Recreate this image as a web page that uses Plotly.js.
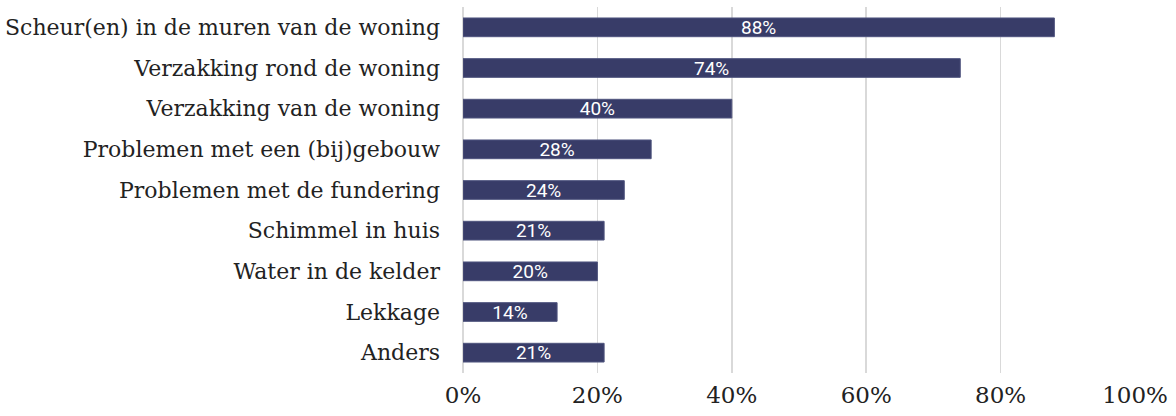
<!DOCTYPE html>
<html><head><meta charset="utf-8">
<script src="https://cdn.plot.ly/plotly-3.0.1.min.js"></script>
<style>html,body{margin:0;padding:0;background:#fff}</style>
</head><body>
<div id="chart" style="width:1176px;height:416px"></div>
<script>
const categories = [
  "Scheur(en) in de muren van de woning",
  "Verzakking rond de woning",
  "Verzakking van de woning",
  "Problemen met een (bij)gebouw",
  "Problemen met de fundering",
  "Schimmel in huis",
  "Water in de kelder",
  "Lekkage",
  "Anders"
];
const values = [0.88, 0.74, 0.40, 0.28, 0.24, 0.21, 0.20, 0.14, 0.21];
const valueLabels = ["88%", "74%", "40%", "28%", "24%", "21%", "20%", "14%", "21%"];
const tickVals = [0, 0.2, 0.4, 0.6, 0.8, 1.0];
const tickText = ["0%", "20%", "40%", "60%", "80%", "100%"];

const trace = {
  type: "bar",
  orientation: "h",
  y: categories,
  x: values,
  text: valueLabels,
  textposition: "inside",
  insidetextanchor: "middle",
  constraintext: "none",
  textangle: 0,
  texttemplate: "%{text}",
  textfont: {family: "Roboto, sans-serif", size: 19, color: "#ffffff"},
  marker: {color: "#383c68", line: {color: "#50557f", width: 1}},
  hoverinfo: "none",
  cliponaxis: false
};

const layout = {
  width: 1176, height: 416,
  margin: {l: 463, r: 41, t: 7, b: 43},
  paper_bgcolor: "#ffffff",
  plot_bgcolor: "#ffffff",
  bargap: 0.54,
  showlegend: false,
  font: {family: "DejaVu Serif, serif", size: 22, color: "#222222"},
  xaxis: {
    range: [0, 1.0],
    tickvals: tickVals,
    ticktext: tickText,
    showgrid: true,
    gridcolor: "#d9d9d9",
    gridwidth: 1.5,
    zeroline: true,
    zerolinecolor: "#d9d9d9",
    zerolinewidth: 1.5,
    showline: false,
    ticks: "",
    ticklabelstandoff: 6,
    tickfont: {family: "DejaVu Serif, serif", size: 23, color: "#222222"},
    fixedrange: true
  },
  yaxis: {
    autorange: "reversed",
    range: [8.5, -0.5],
    showgrid: false,
    zeroline: false,
    showline: false,
    ticks: "",
    ticklabelstandoff: 22,
    tickfont: {family: "DejaVu Serif, serif", size: 22, color: "#222222"},
    fixedrange: true
  }
};

Plotly.newPlot("chart", [trace], layout, {staticPlot: true, displayModeBar: false});
</script>
</body></html>
